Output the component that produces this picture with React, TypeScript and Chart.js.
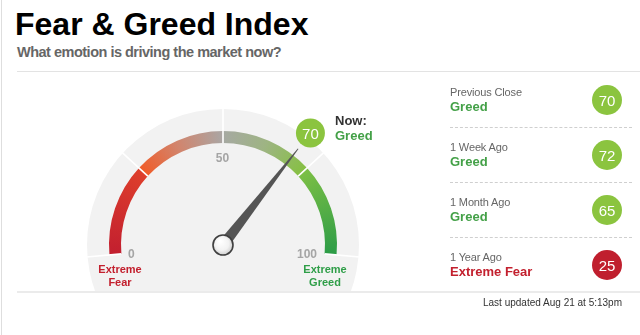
import React, { useEffect, useRef } from "react";
import { Chart, registerables } from "chart.js";

Chart.register(...registerables);

// ---------- data ----------
const GAUGE_SEGMENTS = [25, 25, 25, 25];
const GAUGE_MIN = 0;
const GAUGE_MAX = 100;
const GAUGE_TICKS = ["0", "50", "100"];
const ZONE_FEAR = ["Extreme", "Fear"];
const ZONE_GREED = ["Extreme", "Greed"];
const CURRENT_VALUE = 70;
const CURRENT_RATING = "Greed";
const HISTORY_LABELS = ["Previous Close", "1 Week Ago", "1 Month Ago", "1 Year Ago"];
const HISTORY_VALUES = [70, 72, 65, 25];
const HISTORY_RATINGS = ["Greed", "Greed", "Greed", "Extreme Fear"];
const TITLE = "Fear & Greed Index";
const SUBTITLE = "What emotion is driving the market now?";
const UPDATED_TEXT = "Last updated Aug 21 at 5:13pm";

// ---------- style / layout ----------
const FONT = '"Liberation Sans", Arial, Helvetica, sans-serif';
const SWEEP_DEG = 190;
const ROTATION_DEG = -95;
const BAND_OUTER = 114;
const BAND_INNER = 102;
const DISC_EXTRA = 22;
const GREEN_TEXT = "#43a047";
const RED_TEXT = "#c3202e";
const GREEN_BUBBLE = "#8bc43f";
const RED_BUBBLE = "#c01f2e";

const GRADIENT_STOPS: [number, string][] = [
  [0, "#c21f2f"],
  [24.9, "#de3f2c"],
  [25.1, "#f05c29"],
  [37, "#d2846c"],
  [49.9, "#aaa6a4"],
  [50.1, "#a6a9a2"],
  [62, "#9eb483"],
  [74.9, "#86c043"],
  [75.1, "#7cbf45"],
  [100, "#2c9c47"],
];

const ratingColor = (r: string) => (r.indexOf("Fear") >= 0 ? RED_TEXT : GREEN_TEXT);
const bubbleColor = (v: number) => (v < 50 ? RED_BUBBLE : GREEN_BUBBLE);

const gaugePlugin = {
  id: "gaugeDecor",
  beforeDatasetsDraw(chart: any) {
    const arcs = chart.getDatasetMeta(0).data as any[];
    const a0 = arcs[0];
    const ctx = chart.ctx as CanvasRenderingContext2D;
    ctx.save();
    ctx.fillStyle = "#f2f2f2";
    ctx.beginPath();
    ctx.arc(a0.x, a0.y, a0.outerRadius + DISC_EXTRA, 0, Math.PI * 2);
    ctx.fill();
    ctx.restore();
  },
  afterDatasetsDraw(chart: any) {
    const arcs = chart.getDatasetMeta(0).data as any[];
    const n = GAUGE_SEGMENTS.length;
    const a0 = arcs[0];
    const cx = a0.x;
    const cy = a0.y;
    const start = arcs[0].startAngle;
    const end = arcs[n - 1].endAngle;
    const ctx = chart.ctx as CanvasRenderingContext2D;
    const rOuter = a0.outerRadius + DISC_EXTRA;
    ctx.save();

    // white dividers
    const bounds = arcs.slice(0, n).map((a: any) => a.startAngle).concat([end]);
    ctx.strokeStyle = "#ffffff";
    ctx.lineWidth = 1.6;
    for (const ang of bounds) {
      ctx.beginPath();
      ctx.moveTo(cx + Math.cos(ang) * a0.innerRadius, cy + Math.sin(ang) * a0.innerRadius);
      ctx.lineTo(cx + Math.cos(ang) * (rOuter + 1), cy + Math.sin(ang) * (rOuter + 1));
      ctx.stroke();
    }

    // tick labels
    ctx.font = `bold 12px ${FONT}`;
    ctx.fillStyle = "#a5a5a5";
    ctx.textAlign = "center";
    ctx.textBaseline = "alphabetic";
    const tickPos = [
      [-91.7, 12.7],
      [-0.5, -83.5],
      [84, 12.7],
    ];
    GAUGE_TICKS.forEach((t, i) => ctx.fillText(t, cx + tickPos[i][0], cy + tickPos[i][1]));

    // zone labels
    ctx.font = `bold 11px ${FONT}`;
    ctx.fillStyle = RED_TEXT;
    ZONE_FEAR.forEach((t, i) => ctx.fillText(t, cx - 103, cy + 28.3 + i * 12.5));
    ctx.fillStyle = "#2f9e48";
    ZONE_GREED.forEach((t, i) => ctx.fillText(t, cx + 102, cy + 28.3 + i * 12.5));

    // needle
    const ang = start + ((CURRENT_VALUE - GAUGE_MIN) / (GAUGE_MAX - GAUGE_MIN)) * (end - start);
    const ux = Math.cos(ang);
    const uy = Math.sin(ang);
    const px = -uy;
    const py = ux;
    const len = 122;
    ctx.fillStyle = "#555555";
    ctx.beginPath();
    ctx.moveTo(cx + px * 5.5, cy + py * 5.5);
    ctx.lineTo(cx + ux * len + px * 0.4, cy + uy * len + py * 0.4);
    ctx.lineTo(cx + ux * len - px * 0.4, cy + uy * len - py * 0.4);
    ctx.lineTo(cx - px * 5.5, cy - py * 5.5);
    ctx.closePath();
    ctx.fill();

    // pin
    const g = ctx.createRadialGradient(cx - 3, cy - 4, 1, cx, cy, 11);
    g.addColorStop(0, "#ffffff");
    g.addColorStop(0.6, "#f2f2f2");
    g.addColorStop(1, "#c8c8c8");
    ctx.fillStyle = g;
    ctx.strokeStyle = "#3f3f3f";
    ctx.lineWidth = 1.6;
    ctx.beginPath();
    ctx.arc(cx, cy, 10, 0, Math.PI * 2);
    ctx.fill();
    ctx.stroke();

    // value bubble
    const br = a0.outerRadius + 28;
    const bx = cx + ux * br;
    const by = cy + uy * br;
    ctx.fillStyle = bubbleColor(CURRENT_VALUE);
    ctx.beginPath();
    ctx.arc(bx, by, 14.5, 0, Math.PI * 2);
    ctx.fill();
    ctx.fillStyle = "#ffffff";
    ctx.font = `15px ${FONT}`;
    ctx.textAlign = "center";
    ctx.fillText(String(CURRENT_VALUE), bx, by + 5.4);

    ctx.restore();
  },
};

const T = (p: {
  x: number;
  y: number;
  size: number;
  bold?: boolean;
  color: string;
  right?: boolean;
  ls?: number;
  children: React.ReactNode;
}) => {
  const style: React.CSSProperties = {
    position: "absolute",
    top: p.y - 0.8305 * p.size,
    fontSize: p.size,
    lineHeight: `${p.size}px`,
    fontWeight: p.bold ? 700 : 400,
    color: p.color,
    whiteSpace: "nowrap",
    letterSpacing: p.ls ?? 0,
    fontFamily: FONT,
  };
  if (p.right) style.right = 640 - p.x;
  else style.left = p.x;
  return <div style={style}>{p.children}</div>;
};

export default function App() {
  const ref = useRef<HTMLCanvasElement>(null);

  useEffect(() => {
    document.body.style.margin = "0";
    const canvas = ref.current!;
    const total = GAUGE_SEGMENTS.reduce((a, b) => a + b, 0);
    const filler = (total * (360 - SWEEP_DEG)) / SWEEP_DEG;
    const chart = new Chart(canvas, {
      type: "doughnut",
      data: {
        labels: ["Extreme Fear", "Fear", "Greed", "Extreme Greed", ""],
        datasets: [
          {
            data: [...GAUGE_SEGMENTS, filler],
            backgroundColor: (c: any) => {
              if (c.dataIndex >= GAUGE_SEGMENTS.length) return "rgba(0,0,0,0)";
              const area = c.chart.chartArea;
              if (!area) return GRADIENT_STOPS[0][1];
              const cx = (area.left + area.right) / 2;
              const cy = (area.top + area.bottom) / 2;
              const startRad = ((ROTATION_DEG - 90) * Math.PI) / 180;
              const g = (c.chart.ctx as any).createConicGradient(startRad, cx, cy);
              for (const [v, col] of GRADIENT_STOPS)
                g.addColorStop(((v - GAUGE_MIN) / (GAUGE_MAX - GAUGE_MIN)) * (SWEEP_DEG / 360), col);
              return g;
            },
            borderWidth: 0,
            clip: false as any,
          } as any,
        ],
      },
      options: {
        responsive: false,
        maintainAspectRatio: false,
        animation: false,
        events: [],
        radius: BAND_OUTER,
        cutout: `${(BAND_INNER / BAND_OUTER) * 100}%`,
        rotation: ROTATION_DEG,
        circumference: 360,
        layout: { padding: { left: 6, right: 0, top: 126, bottom: 0 } },
        plugins: { legend: { display: false }, tooltip: { enabled: false } },
      } as any,
      plugins: [gaugePlugin],
    });
    return () => chart.destroy();
  }, []);

  return (
    <div
      style={{
        position: "relative",
        width: 640,
        height: 335,
        overflow: "hidden",
        background: "#ffffff",
        fontFamily: FONT,
      }}
    >
      <div style={{ position: "absolute", left: 1, top: 0, width: 1, height: 335, background: "#dedede" }} />
      <T x={15} y={34.3} size={32} bold color="#000000">
        {TITLE}
      </T>
      <T x={17} y={56.7} size={14.5} bold color="#666666" ls={-0.5}>
        {SUBTITLE}
      </T>
      <div style={{ position: "absolute", left: 17, top: 71, width: 623, height: 1, background: "#e3e3e3" }} />

      <canvas
        ref={ref}
        width={440}
        height={220}
        style={{ position: "absolute", left: 0, top: 72, width: 440, height: 220 }}
      />

      <T x={335} y={125} size={13} bold color="#333333">
        Now:
      </T>
      <T x={335} y={140} size={13} bold color={ratingColor(CURRENT_RATING)}>
        {CURRENT_RATING}
      </T>

      {HISTORY_LABELS.map((lab, i) => (
        <React.Fragment key={lab}>
          <T x={450} y={96 + 55 * i} size={11} color="#666666" ls={-0.15}>
            {lab}
          </T>
          <T x={450} y={110.7 + 55 * i} size={13} bold color={ratingColor(HISTORY_RATINGS[i])}>
            {HISTORY_RATINGS[i]}
          </T>
          <div
            style={{
              position: "absolute",
              left: 607 - 15,
              top: 100 + 55 * i - 15,
              width: 30,
              height: 30,
              borderRadius: "50%",
              background: bubbleColor(HISTORY_VALUES[i]),
              color: "#ffffff",
              fontSize: 15,
              fontFamily: FONT,
              display: "flex",
              alignItems: "center",
              justifyContent: "center",
            }}
          >
            {HISTORY_VALUES[i]}
          </div>
          {i < HISTORY_LABELS.length - 1 && (
            <div
              style={{
                position: "absolute",
                left: 450,
                top: 126.5 + 55 * i,
                width: 182,
                height: 0,
                borderTop: "1px dashed #cfcfcf",
              }}
            />
          )}
        </React.Fragment>
      ))}

      <div style={{ position: "absolute", left: 17, top: 291, width: 623, height: 2, background: "#ebebeb" }} />
      <T x={622} y={306} size={10} color="#333333" right>
        {UPDATED_TEXT}
      </T>
    </div>
  );
}
